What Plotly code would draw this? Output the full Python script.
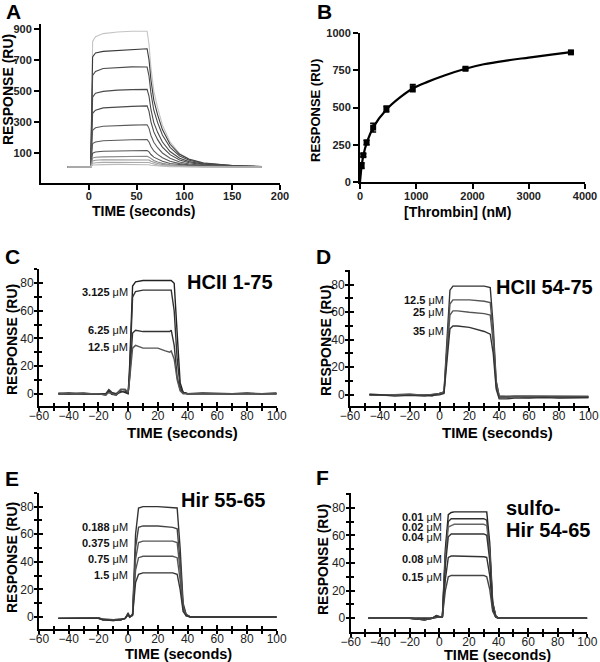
import plotly.graph_objects as go

FONT = "Arial, Liberation Sans, sans-serif"
W, H = 600, 662

# ---------------- A : thrombin sensorgrams ----------------
time_a = [-22, 0, 2, 4, 7, 15, 30, 45, 61, 63, 65, 68, 72, 77, 85, 95, 105, 120, 150, 181]
resp_a = [
    [8, 8, 10, 820, 850, 870, 880, 885, 885, 800, 650, 500, 390, 280, 170, 95, 60, 35, 18, 12],
    [8, 8, 10, 720, 745, 755, 762, 768, 772, 700, 570, 440, 345, 250, 155, 90, 58, 34, 18, 12],
    [8, 8, 10, 600, 625, 645, 652, 655, 654, 595, 485, 375, 295, 215, 135, 80, 52, 31, 17, 11],
    [8, 8, 10, 460, 485, 497, 505, 508, 510, 465, 380, 295, 232, 170, 108, 65, 43, 27, 15, 10],
    [8, 8, 10, 355, 375, 390, 397, 400, 403, 368, 300, 235, 185, 137, 88, 54, 36, 23, 13, 10],
    [8, 8, 10, 245, 262, 272, 277, 279, 281, 258, 212, 168, 133, 99, 65, 41, 28, 19, 12, 9],
    [8, 8, 10, 160, 170, 178, 182, 184, 185, 170, 141, 112, 90, 68, 46, 30, 22, 16, 11, 9],
    [8, 8, 9, 98, 105, 110, 113, 114, 115, 106, 89, 72, 58, 45, 31, 22, 17, 13, 10, 9],
    [8, 8, 9, 66, 71, 74, 76, 77, 78, 72, 61, 50, 41, 32, 23, 17, 14, 11, 9, 8],
    [8, 8, 9, 48, 52, 55, 56, 57, 58, 54, 46, 38, 31, 25, 18, 14, 12, 10, 9, 8],
    [8, 8, 9, 33, 36, 38, 39, 40, 40, 37, 32, 27, 22, 18, 14, 12, 10, 9, 8, 8],
    [8, 8, 9, 21, 23, 24, 25, 25, 25, 23, 20, 17, 15, 13, 11, 10, 9, 9, 8, 8],
]
colors_a = ["#c4c4c4", "#3a3a3a", "#4a4a4a", "#4a4a4a", "#4a4a4a", "#5a5a5a",
            "#5a5a5a", "#555555", "#888888", "#999999", "#aaaaaa", "#bbbbbb"]

# ---------------- B : binding isotherm ----------------
thrombin_nm = [29, 59, 117, 234, 469, 938, 1875, 3750]
resp_b = [110, 180, 265, 365, 490, 630, 760, 870]
err_b = [20, 10, 15, 30, 20, 25, 8, 8]
fit_x = [0, 15, 30, 60, 120, 240, 470, 700, 940, 1200, 1500, 1875, 2200, 2600, 3000, 3400, 3750]
fit_y = [0, 60, 110, 180, 262, 370, 487, 565, 628, 672, 715, 760, 790, 815, 835, 855, 872]

# ---------------- C : HCII 1-75 ----------------
time_c = [-47, -40, -30, -20, -15, -13, -11, -8, -5, -2, 0, 1, 3, 5, 10, 20, 25, 28, 29, 31,
          33, 35, 37, 40, 50, 60, 70, 80, 90, 100]
resp_c = [
    [0, 0.5, -0.5, 0, -1, 2, -0.5, -1, 2, 1, 0, 20, 78, 81, 82, 82, 82, 82, 82, 80, 40, 8, 1, 0, 0.5, 0, 0, 0.5, 0, 0.5],
    [0, 0, 0.5, -0.5, 0, 1, 0, 0, 1, 2, 0, 15, 70, 74, 75, 75, 75, 75, 75, 60, 25, 5, 1, 0, 0, 0.5, 0, 0, 0.5, 0],
    [0, -0.5, 0, 0, 0, 3, 1, 0, 3, 3, 0, 12, 44, 46, 45, 45, 45, 45, 46, 35, 12, 3, 1, 0, 0, 0, 0.5, 0, 0, 0],
    [0.5, 0, 0, 0, -1, 1, 0, -1, 3, 3, 1, 10, 33, 35, 33, 33, 31, 30, 31, 25, 10, 2, 0, 0, 0, 0, 0, 0, 0, 0],
]
labels_c = ["3.125", "6.25", "12.5"]
label_y_c = [74, 46, 34]

# ---------------- D : HCII 54-75 ----------------
time_d = [-47, -40, -30, -20, -10, -5, 0, 3, 5, 7, 9, 12, 20, 30, 34, 36, 38, 40, 45, 50, 60, 70, 80, 90, 100]
resp_d = [
    [0, 0, -0.5, 0, -0.5, 0, 1, 2, 40, 76, 79, 79, 79, 79, 78, 50, 10, -1, -1.5, -1, -1, -1, -1.5, -1, -1.5],
    [0.5, 0, 0, 0.5, -0.5, 0, 1, 2, 35, 66, 69, 69, 69, 68, 67, 44, 9, -1, -1, -1, -1.5, -1, -1, -1.5, -1],
    [0, -0.5, 0, 0, 0, -1, 1, 1.5, 30, 58, 61, 61, 60, 59, 58, 38, 6, -2, -2, -1.5, -2, -1.5, -2, -2, -2],
    [0, 0, -1, -0.5, -1, -0.5, 0, 1, 25, 48, 50, 50, 49, 46, 44, 30, 4, -3, -3, -2.5, -2.5, -2, -2.5, -2, -2],
]
labels_d = ["12.5", "25", "35"]
label_y_d = [69, 60, 46]

# ---------------- E : Hir 55-65 ----------------
time_e = [-47, -40, -30, -20, -17, -10, -5, -2, 0, 1, 3, 5, 7, 10, 20, 30, 33, 35, 37, 39, 42,
          50, 60, 70, 80, 90, 100]
resp_e = [
    [-1, -1, -1, -0.5, -1.5, -2, -1.5, -1, 3, 0, 2, 60, 79, 80, 80, 79.5, 79, 50, 10, 2, 0, 0, 0, 0, 0, 0, 0],
    [-1, -1, -1, -0.5, -2, -2, -2, -1, 2, 0, 2, 50, 65, 66, 66, 65, 64, 40, 8, 2, 0, 0, 0, 0, 0, 0, 0],
    [-1, -1, -1, -1, -2, -2, -2, -1, 2, 0, 2, 42, 54, 55, 55, 55, 54, 34, 7, 1, 0, 0, 0, 0, 0, 0, 0],
    [-1, -1, -1, -1, -2, -2.5, -2, -1, 2, 0, 1.5, 34, 43, 44, 44, 44, 43, 27, 6, 1, 0, 0, 0, 0, 0, 0, 0],
    [-1, -1, -1, -1, -2, -2.5, -2, -1, 2, 0, 1, 25, 31, 32, 32, 32, 31, 20, 4, 1, 0, 0, 0, 0, 0, 0, 0],
]
labels_e = ["0.188", "0.375", "0.75", "1.5"]
label_y_e = [65, 53.5, 42, 30.5]

# ---------------- F : sulfo-Hir 54-65 ----------------
time_f = [-48, -40, -30, -20, -10, -5, -2, 0, 2, 4, 6, 8, 10, 20, 30, 32, 34, 36, 38, 40, 50, 60, 70, 80, 90, 100]
resp_f = [
    [0, 0, 0, 0, -0.5, 0, 2, 1, 1, 50, 75, 76.5, 77, 77, 77, 77, 55, 12, 2, 0, 0, 0, 0, 0, 0, 0],
    [0, 0, 0, -0.5, -0.5, 0, 2, 1, 1, 46, 70, 72, 72, 72, 72, 71, 50, 11, 2, 0, 0, 0, 0, 0, 0, 0],
    [0, 0, 0, 0, -1, 0, 1.5, 1, 1, 43, 66, 67, 68, 68, 68, 67, 47, 10, 2, 0, 0, 0, 0, 0, 0, 0],
    [0, 0, 0, 0, -1, 0, 1.5, 1, 1, 38, 59, 61, 61, 61, 61, 60, 42, 9, 1, 0, 0, 0, 0, 0, 0, 0],
    [0, 0, 0, 0, -1, 0, 1, 1, 1, 28, 44, 45, 45, 45, 44.5, 44, 31, 7, 1, 0, 0, 0, 0, 0, 0, 0],
    [0, 0, 0, 0, -1, 0, 1, 1, 1, 20, 30, 31, 31, 31, 31, 30, 21, 5, 1, 0, 0, 0, 0, 0, 0, 0],
]
labels_f = ["0.01", "0.02", "0.04", "0.08", "0.15"]
label_y_f = [73, 66, 58.6, 42.7, 30]


def px(x):
    return x / W


def py(y):
    return 1 - y / H


fig = go.Figure()

for vals, col in zip(resp_a, colors_a):
    fig.add_trace(go.Scatter(x=time_a, y=vals, mode="lines", line=dict(color=col, width=1.1),
                             xaxis="x", yaxis="y", showlegend=False))

fig.add_trace(go.Scatter(x=fit_x, y=fit_y, mode="lines", line=dict(color="black", width=2.2, shape="spline"),
                         xaxis="x2", yaxis="y2", showlegend=False))
fig.add_trace(go.Scatter(x=thrombin_nm, y=resp_b, mode="markers",
                         marker=dict(symbol="square", size=6, color="black"),
                         error_y=dict(type="data", array=err_b, color="black", thickness=1.5, width=3),
                         xaxis="x2", yaxis="y2", showlegend=False))

panels = [
    ("3", time_c, resp_c, ["#222222", "#333333", "#333333", "#555555"]),
    ("4", time_d, resp_d, ["#333333", "#555555", "#555555", "#333333"]),
    ("5", time_e, resp_e, ["#333333", "#444444", "#555555", "#555555", "#333333"]),
    ("6", time_f, resp_f, ["#222222", "#333333", "#666666", "#333333", "#333333", "#444444"]),
]
for k, t, curves, cols in panels:
    for vals, col in zip(curves, cols):
        fig.add_trace(go.Scatter(x=t, y=vals, mode="lines", line=dict(color=col, width=1.4),
                                 xaxis="x" + k, yaxis="y" + k, showlegend=False))

# empty traces so overlay axes (inner half of crossing ticks) are drawn
for k in ["7", "8", "9", "10"]:
    fig.add_trace(go.Scatter(x=[], y=[], xaxis="x" + k, yaxis="y" + k, showlegend=False))

tickfont_b = dict(family=FONT, size=11, color="#222")
tickfont_r = dict(family=FONT, size=12, color="#222")
base = dict(showgrid=False, zeroline=False, showline=True, linecolor="black", linewidth=2,
            ticks="outside", tickcolor="black", tickwidth=2, ticklen=5, automargin=False)

layout = dict(template="none", width=W, height=H, margin=dict(l=0, r=0, t=0, b=0),
              paper_bgcolor="white", plot_bgcolor="white", showlegend=False,
              font=dict(family=FONT, color="black"))

layout["xaxis"] = dict(base, domain=[px(41), px(280)], range=[-50, 200], tickvals=[0, 50, 100, 150, 200],
                       ticktext=["<b>%d</b>" % v for v in [0, 50, 100, 150, 200]], tickfont=tickfont_b,
                       anchor="y", ticklabelstandoff=-3)
layout["yaxis"] = dict(base, domain=[py(183), py(24)], range=[-95, 932], tickvals=[100, 300, 500, 700, 900],
                       ticktext=["<b>%d</b>" % v for v in [100, 300, 500, 700, 900]], tickfont=tickfont_b,
                       anchor="x")
layout["xaxis2"] = dict(base, domain=[px(360), px(585)], range=[0, 4000], tickvals=[0, 1000, 2000, 3000, 4000],
                        ticktext=["<b>%d</b>" % v for v in [0, 1000, 2000, 3000, 4000]], tickfont=tickfont_b,
                        anchor="y2", ticklabelstandoff=-2)
layout["yaxis2"] = dict(base, domain=[py(182), py(33)], range=[0, 1000], tickvals=[0, 250, 500, 750, 1000],
                        ticktext=["<b>%d</b>" % v for v in [0, 250, 500, 750, 1000]], tickfont=tickfont_b,
                        anchor="x2")

doms = {
    "3": ([39, 276.7], [406, 269.3], [-8.9, 90.1]),
    "4": ([350, 588.7], [406, 270], [-8.2, 90.7]),
    "5": ([39, 276.7], [629, 492.7], [-8.7, 90.1]),
    "6": ([350.7, 587.3], [631.7, 493.3], [-9.7, 90.4]),
}
for i, (k, (xd, yd, yr)) in enumerate(doms.items()):
    o = str(7 + i)
    minor_out = dict(ticks="outside", dtick=10, ticklen=3, tickwidth=1.5, tickcolor="black")
    minor_in = dict(ticks="inside", dtick=10, ticklen=3, tickwidth=1.5, tickcolor="black")
    layout["xaxis" + k] = dict(base, domain=[px(xd[0]), px(xd[1])], range=[-60, 100], dtick=20, tick0=0,
                               ticklen=3, tickfont=tickfont_r, anchor="y" + k, minor=minor_out,
                               ticklabelstandoff=-5)
    layout["yaxis" + k] = dict(base, domain=[py(yd[0]), py(yd[1])], range=yr, dtick=20, tick0=0,
                               ticklen=3, tickfont=tickfont_r, anchor="x" + k, minor=minor_out,
                               ticklabelstandoff=-2)
    layout["xaxis" + o] = dict(showgrid=False, zeroline=False, showline=False, overlaying="x" + k,
                               anchor="y" + k, range=[-60, 100], dtick=20, tick0=0, ticks="inside",
                               ticklen=4, tickwidth=2, tickcolor="black", showticklabels=False,
                               minor=minor_in, automargin=False)
    layout["yaxis" + o] = dict(showgrid=False, zeroline=False, showline=False, overlaying="y" + k,
                               anchor="x" + k, range=yr, dtick=20, tick0=0, ticks="inside", side="left",
                               ticklen=4, tickwidth=2, tickcolor="black", showticklabels=False,
                               minor=minor_in, automargin=False)

fig.update_layout(**layout)

ann = []


def paper_text(text, x, y, size, angle=0, xanchor="center"):
    ann.append(dict(text=text, x=px(x), y=py(y), xref="paper", yref="paper", showarrow=False,
                    textangle=angle, xanchor=xanchor, yanchor="middle",
                    font=dict(family=FONT, size=size, color="black")))


# panel letters
for letter, x, y in [("A", 13, 11), ("B", 324, 11), ("C", 12, 257), ("D", 323, 256), ("E", 12, 478), ("F", 322, 477)]:
    paper_text("<b>%s</b>" % letter, x, y, 21, xanchor="center")

# axis titles
for x, y, size in [(8, 90, 14), (315, 111, 13), (12, 340, 14), (326, 341, 14), (12, 558, 14), (323, 560, 14)]:
    paper_text("<b>RESPONSE (RU)</b>", x, y, size, angle=-90)
for x, y, size in [(143, 211, 14), (182, 432, 15), (497, 432, 15), (178, 654, 14.5), (497, 655, 14.5)]:
    paper_text("<b>TIME (seconds)</b>", x, y, size)
paper_text("<b>[Thrombin] (nM)</b>", 457, 212, 14)

# concentration labels
for k, labs, ys, xr in [("3", labels_c, label_y_c, 1.2), ("4", labels_d, label_y_d, 4.1),
                        ("5", labels_e, label_y_e, 1.2), ("6", labels_f, label_y_f, 3.3)]:
    for lab, yv in zip(labs, ys):
        ann.append(dict(text="<b>%s</b> μM" % lab, x=xr, y=yv, xref="x" + k, yref="y" + k, showarrow=False,
                        xanchor="right", yanchor="middle", font=dict(family=FONT, size=11, color="#111")))

# peptide names
for k, txt, x, y, xa in [("3", "<b>HCII 1-75</b>", 68.5, 81, "center"),
                         ("4", "<b>HCII 54-75</b>", 70.7, 78.5, "center"),
                         ("5", "<b>Hir 55-65</b>", 64, 84.8, "center")]:
    ann.append(dict(text=txt, x=x, y=y, xref="x" + k, yref="y" + k, showarrow=False, xanchor=xa,
                    yanchor="middle", font=dict(family=FONT, size=20, color="black")))
for txt, y in [("<b>sulfo-</b>", 79.8), ("<b>Hir 54-65</b>", 63.9)]:
    ann.append(dict(text=txt, x=43.7, y=y, xref="x6", yref="y6", showarrow=False, xanchor="left",
                    yanchor="middle", font=dict(family=FONT, size=20, color="black")))

fig.update_layout(annotations=ann)
fig.write_html("out.html", config={"displayModeBar": False},
               post_script="document.body.style.margin='0';")
